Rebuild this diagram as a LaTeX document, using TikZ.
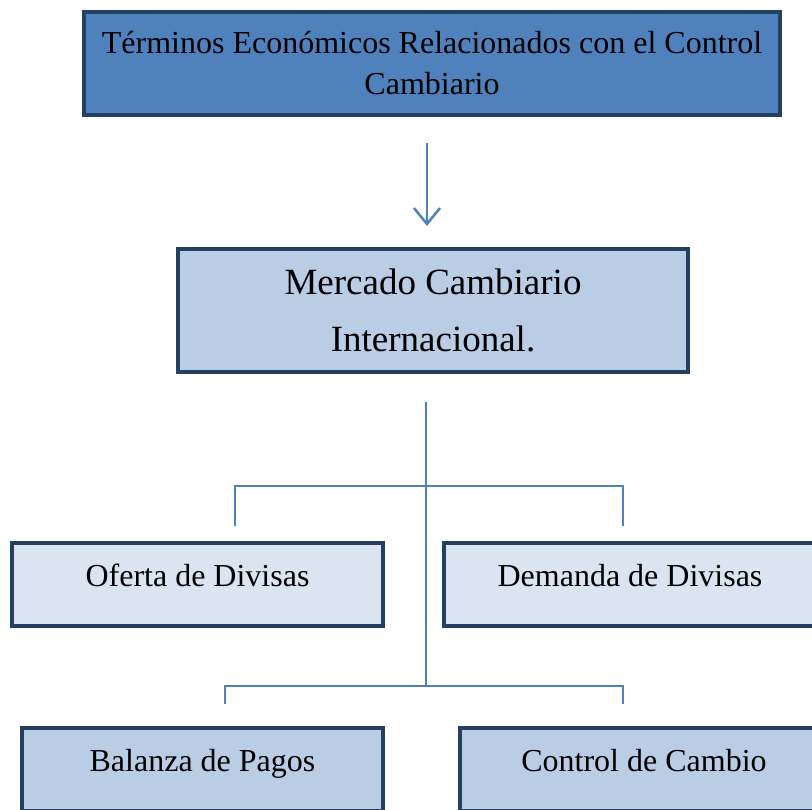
\documentclass[tikz,border=0pt]{standalone}
\usepackage{fontspec}
\setmainfont{Liberation Serif}
\usepackage{tikz}
\usetikzlibrary{arrows.meta}
\definecolor{CCborder}{HTML}{243F60}
\definecolor{CCdark}{HTML}{4F81BD}
\definecolor{CCmid}{HTML}{B9CDE5}
\definecolor{CClight}{HTML}{DBE5F1}
\tikzset{
  ccbox/.style={draw=CCborder, line width=4.5pt, rectangle, align=center},
  ccsmall/.style={ccbox, minimum height=83pt, text height=22pt, text depth=19pt,
    font=\fontsize{32}{38}\selectfont},
  ccline/.style={draw=CCdark, line width=1.5pt},
}

\begin{document}
\begin{tikzpicture}[y=1pt, x=1pt, yscale=-1, inner sep=0pt, outer sep=0pt]
  \path[use as bounding box] (0,0) rectangle (812,810);
  \clip (0,0) rectangle (812,810);
  \node[ccbox, fill=CCdark, minimum width=696pt, minimum height=103pt,
    font=\fontsize{32}{41}\selectfont] (terminos) at (432,63.5)
    {Términos Económicos Relacionados con el Control\\Cambiario};
  \node[ccbox, fill=CCmid, minimum width=510pt, minimum height=123pt,
    font=\fontsize{37}{57}\selectfont] (mercado) at (433,310.5)
    {Mercado Cambiario\\Internacional.};
  \node[ccsmall, fill=CClight, minimum width=371pt] (oferta) at (197.5,584.5)
    {Oferta de Divisas};
  \node[ccsmall, fill=CClight, minimum width=372pt] (demanda) at (630,584.5)
    {Demanda de Divisas};
  \node[ccsmall, fill=CCmid, minimum width=361pt] (balanza) at (202.5,769.5)
    {Balanza de Pagos};
  \node[ccsmall, fill=CCmid, minimum width=368pt] (control) at (644,769.5)
    {Control de Cambio};
  \coordinate (arrowS) at (427,143);
  \coordinate (arrowE) at (427,226);
  \coordinate (trunk) at (426,402);
  \coordinate (fork1) at (426,486);
  \coordinate (fork2) at (426,686);
  \coordinate (ofertaIn) at (235,526);
  \coordinate (demandaIn) at (623,526);
  \coordinate (balanzaIn) at (225,704);
  \coordinate (controlIn) at (623,704);
  \draw[ccline, line width=2.5pt, -{Straight Barb[length=16pt,width=26pt]}]
    (arrowS) -- (arrowE);
  \draw[ccline] (trunk) -- (fork2);
  \draw[ccline] (ofertaIn) |- (fork1) -| (demandaIn);
  \draw[ccline] (balanzaIn) |- (fork2) -| (controlIn);
\end{tikzpicture}
\end{document}
